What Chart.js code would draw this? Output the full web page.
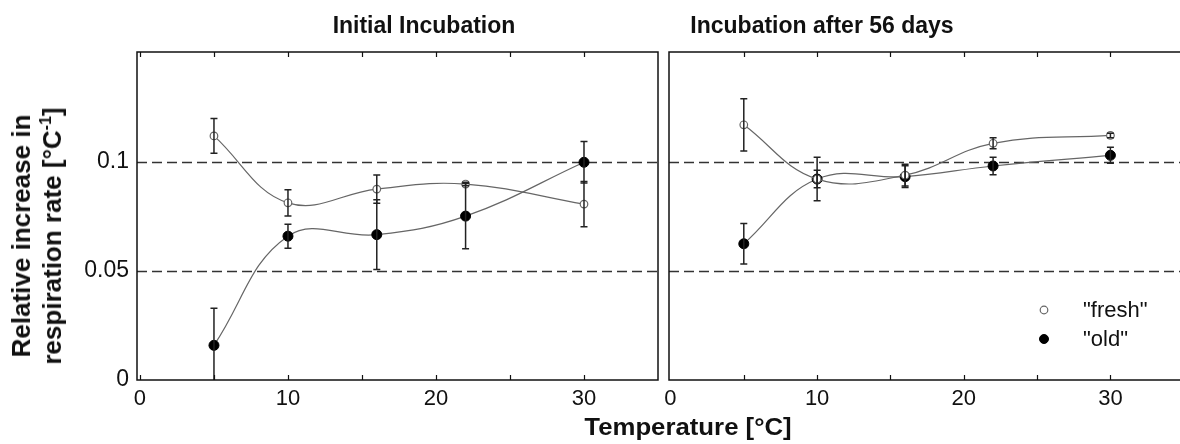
<!DOCTYPE html>
<html><head><meta charset="utf-8">
<script src="https://cdn.jsdelivr.net/npm/chart.js@4.4.0/dist/chart.umd.min.js"></script>
<style>
html,body{margin:0;padding:0;background:#fff;overflow:hidden;width:1180px;height:444px}
#wrap{position:relative;width:1180px;height:444px;overflow:hidden;font-family:"Liberation Sans",Arial,sans-serif;color:#111}
canvas{position:absolute;top:0}
#c1{left:0}
#c2{left:660px}
.t{position:absolute;font-weight:bold;font-size:23px;white-space:nowrap;transform:translateX(-50%)}
#xtitle{position:absolute;left:688px;top:414px;font-weight:bold;font-size:23px;white-space:nowrap;transform:translateX(-50%) scaleX(1.12)}
#ytitle{position:absolute;left:37px;top:236px;transform:translate(-50%,-50%) rotate(-90deg);font-weight:bold;font-size:26px;line-height:31px;text-align:center;white-space:nowrap}
#ytitle sup{font-size:16px;line-height:0;vertical-align:10px}
</style></head><body>
<div id="wrap">
<canvas id="c1" width="665" height="444"></canvas>
<canvas id="c2" width="540" height="444"></canvas>
<div class="t" style="left:424px;top:12px">Initial Incubation</div>
<div class="t" style="left:822px;top:12px">Incubation after 56 days</div>
<div id="xtitle">Temperature [°C]</div>
<div id="ytitle">Relative increase in<br>respiration rate [°C<sup>-1</sup>]</div>
</div>
<script>
// ---- data ----
const temps = [5, 10, 16, 22, 30];
const initFresh    = [0.112, 0.0813, 0.0876, 0.0899, 0.0807];
const initFreshErr = [0.008, 0.006, 0.0065, 0.0008, 0.0104];
const initOld      = [0.0159, 0.066, 0.0667, 0.0752, 0.0999];
const initOldErr   = [0.017, 0.0055, 0.016, 0.015, 0.0095];
const lateFresh    = [0.1171, 0.0922, 0.094, 0.1086, 0.1122];
const lateFreshErr = [0.012, 0.01, 0.005, 0.0025, 0.001];
const lateOld      = [0.0625, 0.0922, 0.0933, 0.0982, 0.1031];
const lateOldErr   = [0.0093, 0.004, 0.005, 0.004, 0.0037];
const xTicks  = [0, 5, 10, 15, 20, 25, 30, 35];
const xLabels = [0, 10, 20, 30];
const yTicks  = [0, 0.05, 0.1];
const refLines = [0.05, 0.1];
const seriesNames = ['"fresh"', '"old"'];

const FONT = '"Liberation Sans", Arial, sans-serif';

const panelPlugin = {
  id: 'panel',
  beforeDatasetsDraw(chart) {
    const {ctx, chartArea: a, scales: {y}} = chart;
    ctx.save();
    ctx.strokeStyle = '#333';
    ctx.lineWidth = 1.5;
    ctx.setLineDash([10, 5]);
    refLines.forEach(v => {
      const py = Math.round(y.getPixelForValue(v)) + 0.5;
      ctx.beginPath(); ctx.moveTo(a.left, py); ctx.lineTo(a.right, py); ctx.stroke();
    });
    ctx.restore();
  },
  afterDatasetsDraw(chart) {
    const {ctx, chartArea: a, scales: {x, y}} = chart;
    ctx.save();
    ctx.beginPath(); ctx.rect(a.left, a.top, a.right - a.left, a.bottom - a.top); ctx.clip();
    ctx.strokeStyle = '#222';
    ctx.lineWidth = 1.5;
    chart.data.datasets.forEach(ds => {
      ds.data.forEach((p, i) => {
        const e = ds.err[i];
        const px = x.getPixelForValue(p.x);
        const y1 = y.getPixelForValue(p.y + e), y2 = y.getPixelForValue(p.y - e);
        ctx.beginPath();
        ctx.moveTo(px, y1); ctx.lineTo(px, y2);
        ctx.moveTo(px - 3.5, y1); ctx.lineTo(px + 3.5, y1);
        ctx.moveTo(px - 3.5, y2); ctx.lineTo(px + 3.5, y2);
        ctx.stroke();
      });
    });
    ctx.restore();
    ctx.save();
    ctx.strokeStyle = '#111';
    ctx.lineWidth = 1.5;
    ctx.strokeRect(a.left, a.top, a.right - a.left, a.bottom - a.top);
    ctx.lineWidth = 1.2;
    xTicks.forEach(v => {
      const px = Math.round(x.getPixelForValue(v)) + 0.5;
      if (px < a.left + 2 || px > a.right - 2) return;
      ctx.beginPath();
      ctx.moveTo(px, a.bottom); ctx.lineTo(px, a.bottom - 5);
      ctx.moveTo(px, a.top); ctx.lineTo(px, a.top + 5);
      ctx.stroke();
    });
    ctx.restore();
  }
};

const legendPlugin = {
  id: 'inlegend',
  afterDraw(chart) {
    const {ctx, chartArea: a} = chart;
    const dss = chart.data.datasets;
    ctx.save();
    ctx.font = '22px ' + FONT;
    ctx.textBaseline = 'middle';
    dss.forEach((ds, i) => {
      const cy = 310 + i * 29, cx = a.left + 375;
      ctx.beginPath();
      ctx.arc(cx, cy, ds.pointRadius - (i === 0 ? 0 : 0.5), 0, Math.PI * 2);
      ctx.fillStyle = ds.pointBackgroundColor; ctx.fill();
      ctx.lineWidth = ds.pointBorderWidth; ctx.strokeStyle = ds.pointBorderColor; ctx.stroke();
      ctx.fillStyle = '#111';
      ctx.fillText(ds.label, a.left + 414, cy + 1);
    });
    ctx.restore();
  }
};

function makeDatasets(fresh, freshErr, old, oldErr) {
  return [
    {label: seriesNames[0], data: temps.map((t, i) => ({x: t, y: fresh[i]})), err: freshErr,
     showLine: true, borderColor: '#666', borderWidth: 1.2, tension: 0.4,
     pointRadius: 3.8, pointBackgroundColor: '#fff', pointBorderColor: '#666', pointBorderWidth: 1.2},
    {label: seriesNames[1], data: temps.map((t, i) => ({x: t, y: old[i]})), err: oldErr,
     showLine: true, borderColor: '#666', borderWidth: 1.2, tension: 0.4,
     pointRadius: 5, pointBackgroundColor: '#000', pointBorderColor: '#000', pointBorderWidth: 1}
  ];
}

function makeChart(id, datasets, xmin, xmax, showY, padding, plugins) {
  return new Chart(document.getElementById(id), {
    type: 'scatter',
    data: {datasets},
    options: {
      responsive: false, animation: false, devicePixelRatio: 1,
      layout: {padding},
      plugins: {legend: {display: false}, tooltip: {enabled: false}, title: {display: false}},
      scales: {
        x: {type: 'linear', min: xmin, max: xmax,
            afterBuildTicks: s => { s.ticks = xTicks.map(v => ({value: v})); },
            afterFit: s => { s.height = 64; },
            ticks: {callback: v => xLabels.includes(v) ? String(v) : '', autoSkip: false, maxRotation: 0,
                    font: {size: 22, family: FONT}, color: '#111', padding: -2},
            grid: {display: false}, border: {display: false}},
        y: {type: 'linear', min: 0, max: 0.1505, display: showY,
            afterBuildTicks: s => { s.ticks = yTicks.map(v => ({value: v})); },
            afterFit: s => { if (showY) s.width = 137; else s.width = 0; },
            ticks: {callback: v => String(v), font: {size: 23, family: FONT}, color: '#111', padding: 0},
            grid: {display: false}, border: {display: false}}
      }
    },
    plugins
  });
}

makeChart('c1', makeDatasets(initFresh, initFreshErr, initOld, initOldErr), -0.2, 35, true,
          {left: 0, top: 52, right: 7, bottom: 0}, [panelPlugin]);
makeChart('c2', makeDatasets(lateFresh, lateFreshErr, lateOld, lateOldErr), -0.1, 35.7, false,
          {left: 9, top: 52, right: 5, bottom: 0}, [panelPlugin, legendPlugin]);
</script>
</body></html>
